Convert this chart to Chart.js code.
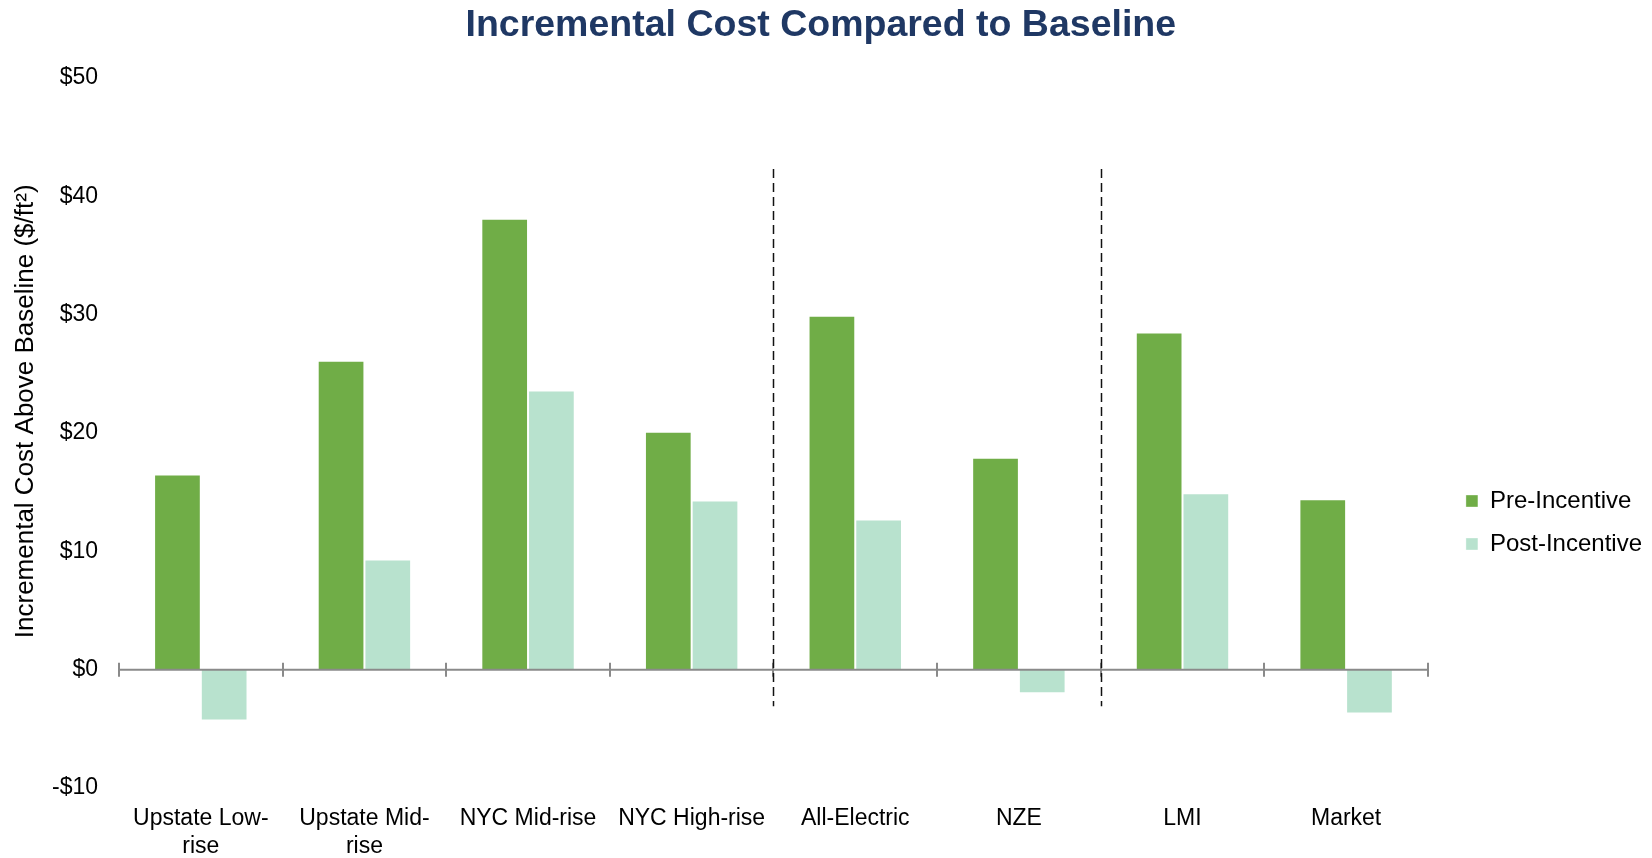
<!DOCTYPE html>
<html>
<head>
<meta charset="utf-8">
<title>Incremental Cost Compared to Baseline</title>
<script src="https://cdn.jsdelivr.net/npm/chart.js@4/dist/chart.umd.min.js"></script>
<style>
  html, body { margin: 0; padding: 0; background: #fff; }
  #wrap { width: 1652px; height: 858px; }
</style>
</head>
<body>
<div id="wrap"><canvas id="costChart" width="1652" height="858"></canvas></div>
<script>
// building types (multi-line labels as arrays)
const categories = [
  ['Upstate Low-', 'rise'],
  ['Upstate Mid-', 'rise'],
  'NYC Mid-rise',
  'NYC High-rise',
  'All-Electric',
  'NZE',
  'LMI',
  'Market'
];

// $/ft2 above baseline
const preIncentive  = [16.5, 26.1, 38.1, 20.1, 29.9, 17.9, 28.5, 14.4];
const postIncentive = [-4.3, 9.3, 23.6, 14.3, 12.7, -2.0, 14.9, -3.7];

// y axis range and step
const yMin = -10;
const yMax = 50;
const yStep = 10;

// dashed group separators: after these category indexes, spanning these values
const dividerAfter = [3, 5];
const dividerTop = 42.3;
const dividerBottom = -3.1;

const PRE_COLOR = '#70AD47';
const POST_COLOR = '#B8E2CE';

Chart.defaults.font.family = '"Liberation Sans", Arial, sans-serif';
Chart.defaults.color = '#000';

function moneyLabel(v) {
  return v < 0 ? '-$' + Math.abs(v) : '$' + v;
}

// zero baseline with cross ticks at category boundaries, plus dashed separators
const axisLines = {
  id: 'axisLines',
  afterDatasetsDraw(chart) {
    const { ctx, chartArea, scales: { x, y } } = chart;
    const y0 = y.getPixelForValue(0);
    ctx.save();
    ctx.strokeStyle = '#8a8a8a';
    ctx.lineWidth = 2;
    ctx.beginPath();
    ctx.moveTo(chartArea.left, y0);
    ctx.lineTo(chartArea.right, y0);
    for (let i = 0; i <= categories.length; i++) {
      const bx = Math.round(x.getPixelForValue(i - 0.5));
      ctx.moveTo(bx, y0 - 7);
      ctx.lineTo(bx, y0 + 7);
    }
    ctx.stroke();

    ctx.strokeStyle = '#111';
    ctx.lineWidth = 1.5;
    ctx.setLineDash([9, 5]);
    dividerAfter.forEach(i => {
      const dx = Math.round(x.getPixelForValue(i + 0.5)) + 0.5;
      ctx.beginPath();
      ctx.moveTo(dx, y.getPixelForValue(dividerTop));
      ctx.lineTo(dx, y.getPixelForValue(dividerBottom));
      ctx.stroke();
    });
    ctx.restore();
  }
};

new Chart(document.getElementById('costChart').getContext('2d'), {
  type: 'bar',
  data: {
    labels: categories,
    datasets: [
      {
        label: 'Pre-Incentive',
        data: preIncentive,
        backgroundColor: PRE_COLOR,
        borderColor: 'rgba(255,255,255,0.35)',
        borderWidth: 1
      },
      {
        label: 'Post-Incentive',
        data: postIncentive,
        backgroundColor: POST_COLOR,
        borderColor: 'rgba(255,255,255,0.35)',
        borderWidth: 1
      }
    ]
  },
  options: {
    responsive: false,
    devicePixelRatio: 1,
    animation: false,
    layout: { padding: 0 },
    datasets: {
      bar: { categoryPercentage: 0.571, barPercentage: 1.0 }
    },
    plugins: {
      title: {
        display: true,
        text: 'Incremental Cost Compared to Baseline ',
        color: '#1F3864',
        font: { size: 37.5, weight: 'bold' },
        padding: { top: 3, bottom: 30 }
      },
      legend: {
        position: 'right',
        title: { display: true, text: '', font: { size: 10 }, padding: { top: 175, bottom: 0 } },
        labels: {
          boxWidth: 12,
          boxHeight: 12,
          padding: 19,
          font: { size: 24 },
          color: '#000'
        }
      },
      tooltip: { enabled: false }
    },
    scales: {
      x: {
        grid: { display: false, drawTicks: false },
        border: { display: false },
        afterFit(scale) { scale.height = 70; },
        ticks: {
          padding: 17,
          maxRotation: 0,
          autoSkip: false,
          font: { size: 23, lineHeight: 1.2 },
          color: '#000'
        }
      },
      y: {
        min: yMin,
        max: yMax,
        grid: { display: false, drawTicks: false },
        border: { display: false },
        afterFit(scale) { scale.width = 119; },
        ticks: {
          stepSize: yStep,
          padding: 21,
          font: { size: 23 },
          color: '#000',
          callback: v => moneyLabel(v)
        },
        title: {
          display: true,
          text: '      Incremental Cost Above Baseline ($/ft²)',
          font: { size: 26 },
          color: '#000',
          padding: { top: 10, bottom: 0 }
        }
      },
      // empty spacer between the plot and the legend
      gap: {
        type: 'linear',
        position: 'right',
        display: true,
        grid: { display: false, drawTicks: false },
        border: { display: false },
        ticks: { display: false },
        afterFit(scale) { scale.width = 19; }
      }
    }
  },
  plugins: [axisLines]
});
</script>
</body>
</html>
